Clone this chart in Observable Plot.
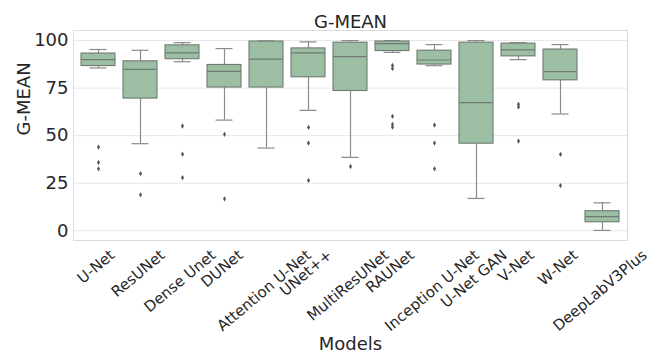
<!DOCTYPE html>
<html>
<head>
<meta charset="utf-8">
<script src="https://cdn.jsdelivr.net/npm/d3@7"></script>
<script src="https://cdn.jsdelivr.net/npm/@observablehq/plot@0.6"></script>
<style>
  html, body { margin: 0; padding: 0; background: #fff; }
  #chart { width: 655px; height: 356px; }
</style>
</head>
<body>
<div id="chart"></div>
<script>
const models = ["U-Net","ResUNet","Dense Unet","DUNet","Attention U-Net","UNet++","MultiResUNet","RAUNet","Inception U-Net","U-Net GAN","V-Net","W-Net","DeepLabV3Plus"];
const whiskerLow  = [85.6, 45.8, 88.9, 58.2, 43.5, 63.3, 38.6, 93.8, 86.8, 17.0, 90.0, 61.4, 0.2];
const q1          = [86.6, 69.5, 90.2, 75.3, 75.3, 80.7, 73.5, 94.5, 87.4, 45.8, 91.7, 79.1, 4.5];
const median      = [90.0, 84.9, 93.5, 83.8, 90.3, 93.5, 91.6, 98.4, 89.8, 67.4, 95.1, 83.7, 7.4];
const q3          = [93.2, 89.1, 97.5, 87.2, 99.5, 95.9, 98.9, 99.5, 94.7, 98.9, 98.4, 95.3, 10.3];
const whiskerHigh = [95.3, 94.9, 98.9, 95.8, 99.8, 99.3, 100, 100, 97.9, 100, 98.9, 97.9, 14.7];
const outliers = [
  [44.0, 35.9, 32.6],
  [30.0, 18.9],
  [55.1, 40.3, 27.9],
  [50.7, 16.8],
  [],
  [54.4, 46.1, 26.5],
  [33.8],
  [86.9, 85.3, 60.2, 55.9, 54.5],
  [55.6, 46.1, 32.6],
  [],
  [66.5, 65.1, 47.2],
  [40.2, 23.8],
  []
];
const yTicks = [0, 25, 50, 75, 100];
const titleText = "G-MEAN";
const yLabel = "G-MEAN";
const xLabel = "Models";

const table = models.map((m, i) => ({model: m, lo: whiskerLow[i], q1: q1[i], med: median[i], q3: q3[i], hi: whiskerHigh[i]}));
const fliers = models.flatMap((m, i) => outliers[i].map(v => ({model: m, value: v})));

const W = 655, H = 356;
const mL = 73, mR = 28, mT = 30, mB = 116;
const font = "DejaVu Sans";
const ink = "#262626";
const fill = "#9cbfa4";
const edge = "#6f7a72";
const whisk = "#8a8a8a";

const step = (W - mL - mR) / models.length;
const bw = step * 0.8;

// x tick labels: rotated 40deg, centered on tick like matplotlib
const fsX = 15;
const ctx = document.createElement("canvas").getContext("2d");
ctx.font = `${fsX}px "${font}"`;
const ang = 40 * Math.PI / 180;
const hBox = 1.17 * fsX;
const labelMarks = models.map(m => {
  const L = ctx.measureText(m).width;
  const dx = (L * Math.cos(ang) - hBox * Math.sin(ang)) / 2 - 0.5;
  return Plot.text([m], {
    x: d => d, frameAnchor: "bottom", textAnchor: "end", lineAnchor: "top",
    rotate: -40, dx, dy: 8, fontSize: fsX, fill: ink
  });
});

const chart = Plot.plot({
  width: W, height: H,
  marginLeft: mL, marginRight: mR, marginTop: mT, marginBottom: mB,
  style: {fontFamily: font, background: "#fff", color: ink},
  x: {type: "band", domain: models, paddingInner: 0.2, paddingOuter: 0.1, axis: null},
  y: {domain: [-5.1, 105.3], axis: null},
  marks: [
    Plot.ruleY(yTicks, {stroke: "#e6e6e6", strokeWidth: 1}),
    Plot.frame({stroke: "#dcdcdc", strokeWidth: 1}),
    Plot.ruleX(table, {x: "model", y1: "q3", y2: "hi", stroke: whisk, strokeWidth: 1.2}),
    Plot.ruleX(table, {x: "model", y1: "lo", y2: "q1", stroke: whisk, strokeWidth: 1.2}),
    Plot.tickY(table, {x: "model", y: "hi", stroke: whisk, strokeWidth: 1.2, insetLeft: bw / 4, insetRight: bw / 4}),
    Plot.tickY(table, {x: "model", y: "lo", stroke: whisk, strokeWidth: 1.2, insetLeft: bw / 4, insetRight: bw / 4}),
    Plot.rectY(table, {x: "model", y1: "q1", y2: "q3", fill: fill, stroke: edge, strokeWidth: 1.1}),
    Plot.tickY(table, {x: "model", y: "med", stroke: edge, strokeWidth: 1.2}),
    Plot.dot(fliers, {x: "model", y: "value", symbol: "diamond", r: 1.6, fill: "#555", stroke: "none"}),
    Plot.axisY({ticks: yTicks, tickSize: 0, tickPadding: 5, fontSize: 18, label: null, fill: ink}),
    Plot.text([titleText], {frameAnchor: "top", dy: -3, lineAnchor: "bottom", fontSize: 18, fill: ink}),
    Plot.text([yLabel], {frameAnchor: "left", rotate: -90, dx: -49, fontSize: 18, fill: ink}),
    Plot.text([xLabel], {frameAnchor: "bottom", dy: 104, lineAnchor: "middle", fontSize: 18, fill: ink}),
    ...labelMarks
  ]
});
document.getElementById("chart").appendChild(chart);
</script>
</body>
</html>
